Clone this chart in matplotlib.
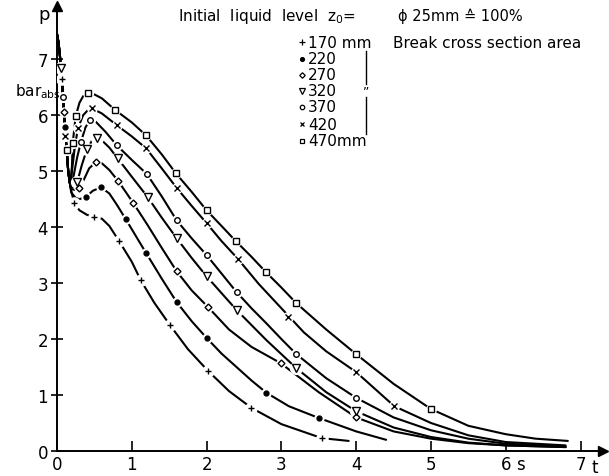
import matplotlib
matplotlib.use("Agg")
import matplotlib.pyplot as plt

# pressure p (bar abs) over time t (s) for several initial liquid levels z0
levels = ["170 mm", "220", "270", "320", "370", "420", "470mm"]
markers = ["+", "o", "D", "v", "o", "x", "s"]
filled = [True, True, False, False, False, True, False]
msizes = [5, 3.5, 3.5, 5.5, 4, 4, 4]

# common blow-down branch right after the break
t_drop = [0.0, 0.02, 0.04, 0.05, 0.07, 0.09, 0.11, 0.13, 0.15, 0.17]
p_drop = [7.45, 7.3, 7.05, 6.84, 6.55, 6.1, 5.7, 5.37, 5.0, 4.8]

t_170 = [0.19, 0.23, 0.3, 0.4, 0.49, 0.6, 0.7, 0.83, 1.0, 1.12, 1.3, 1.51,
         1.75, 2.02, 2.3, 2.6, 3.0, 3.54, 3.9]
p_170 = [4.65, 4.43, 4.3, 4.22, 4.18, 4.15, 4.02, 3.75, 3.38, 3.05, 2.65, 2.25,
         1.82, 1.43, 1.07, 0.77, 0.48, 0.23, 0.18]
t_220 = [0.19, 0.25, 0.3, 0.39, 0.48, 0.59, 0.7, 0.8, 0.92, 1.05, 1.19, 1.4,
         1.6, 1.8, 2.0, 2.2, 2.4, 2.6, 2.8, 3.1, 3.5, 4.0, 4.4]
p_220 = [4.62, 4.52, 4.5, 4.54, 4.65, 4.71, 4.6, 4.4, 4.14, 3.85, 3.54, 3.08,
         2.66, 2.32, 2.02, 1.74, 1.5, 1.26, 1.04, 0.8, 0.59, 0.35, 0.2]
t_270 = [0.19, 0.25, 0.3, 0.36, 0.43, 0.52, 0.6, 0.7, 0.82, 1.02, 1.2, 1.4,
         1.6, 1.8, 2.02, 2.3, 2.6, 2.99, 3.5, 4.0, 4.5, 5.0, 5.5, 6.0, 6.8]
p_270 = [4.68, 4.66, 4.69, 4.85, 5.05, 5.16, 5.14, 5.02, 4.82, 4.43, 4.06, 3.63,
         3.21, 2.87, 2.57, 2.17, 1.86, 1.57, 1.05, 0.6, 0.35, 0.22, 0.14, 0.1, 0.07]
t_320 = [0.19, 0.23, 0.27, 0.33, 0.4, 0.47, 0.53, 0.6, 0.7, 0.81, 1.0, 1.21,
         1.4, 1.6, 1.8, 2.0, 2.2, 2.4, 2.8, 3.2, 3.6, 4.0, 4.5, 5.0, 5.5, 6.0, 6.8]
p_320 = [4.7, 4.72, 4.8, 5.1, 5.39, 5.55, 5.59, 5.55, 5.42, 5.23, 4.9, 4.54,
         4.17, 3.8, 3.45, 3.12, 2.82, 2.52, 1.98, 1.48, 1.05, 0.71, 0.42, 0.25,
         0.15, 0.1, 0.07]
t_370 = [0.18, 0.22, 0.27, 0.32, 0.38, 0.44, 0.52, 0.65, 0.8, 1.0, 1.2, 1.4,
         1.6, 1.8, 2.0, 2.2, 2.4, 2.6, 2.8, 3.0, 3.2, 3.6, 4.0, 4.5, 5.0, 5.5,
         6.0, 6.8]
p_370 = [4.72, 4.9, 5.25, 5.52, 5.78, 5.91, 5.88, 5.7, 5.46, 5.2, 4.95, 4.55,
         4.12, 3.8, 3.5, 3.17, 2.84, 2.55, 2.28, 2.0, 1.73, 1.3, 0.95, 0.6,
         0.37, 0.22, 0.13, 0.08]
t_420 = [0.18, 0.2, 0.24, 0.28, 0.35, 0.42, 0.47, 0.6, 0.8, 1.0, 1.19, 1.4,
         1.6, 1.8, 2.0, 2.2, 2.42, 2.7, 3.0, 3.3, 3.6, 4.0, 4.51, 5.0, 5.5,
         6.0, 6.8]
p_420 = [4.74, 5.0, 5.45, 5.77, 6.0, 6.1, 6.12, 6.03, 5.82, 5.62, 5.41, 5.05,
         4.7, 4.38, 4.07, 3.75, 3.43, 2.98, 2.55, 2.12, 1.78, 1.41, 0.8, 0.5,
         0.28, 0.16, 0.1]
t_470 = [0.18, 0.2, 0.21, 0.25, 0.3, 0.35, 0.41, 0.5, 0.6, 0.78, 1.0, 1.19,
         1.4, 1.59, 1.8, 2.0, 2.2, 2.39, 2.6, 2.79, 3.0, 3.2, 3.6, 4.0, 4.5,
         5.0, 5.5, 6.0, 6.4, 6.83]
p_470 = [4.78, 5.1, 5.5, 5.98, 6.22, 6.34, 6.39, 6.37, 6.3, 6.09, 5.87, 5.64,
         5.3, 4.96, 4.63, 4.3, 4.02, 3.75, 3.47, 3.2, 2.92, 2.64, 2.17, 1.73,
         1.2, 0.75, 0.45, 0.3, 0.22, 0.18]

# measured points (symbols)
tm_170 = [0.07, 0.23, 0.49, 0.83, 1.12, 1.51, 2.02, 2.6, 3.54]
pm_170 = [6.64, 4.43, 4.18, 3.75, 3.05, 2.25, 1.43, 0.77, 0.23]
tm_220 = [0.11, 0.39, 0.59, 0.92, 1.19, 1.6, 2.0, 2.8, 3.5]
pm_220 = [5.79, 4.54, 4.71, 4.14, 3.54, 2.66, 2.02, 1.04, 0.59]
tm_270 = [0.09, 0.3, 0.52, 0.82, 1.02, 1.6, 2.02, 2.99, 4.0]
pm_270 = [6.05, 4.69, 5.16, 4.82, 4.43, 3.21, 2.57, 1.57, 0.6]
tm_320 = [0.05, 0.27, 0.4, 0.53, 0.81, 1.21, 1.6, 2.0, 2.4, 3.2, 4.0]
pm_320 = [6.84, 4.8, 5.39, 5.59, 5.23, 4.54, 3.8, 3.12, 2.52, 1.48, 0.71]
tm_370 = [0.08, 0.32, 0.44, 0.8, 1.2, 1.6, 2.0, 2.4, 3.2, 4.0]
pm_370 = [6.32, 5.52, 5.91, 5.46, 4.95, 4.12, 3.5, 2.84, 1.73, 0.95]
tm_420 = [0.11, 0.28, 0.47, 0.8, 1.19, 1.6, 2.0, 2.42, 3.09, 4.0, 4.51]
pm_420 = [5.62, 5.77, 6.12, 5.82, 5.41, 4.7, 4.07, 3.43, 2.4, 1.41, 0.8]
tm_470 = [0.13, 0.21, 0.25, 0.41, 0.78, 1.19, 1.59, 2.0, 2.39, 2.79, 3.2, 4.0, 5.0]
pm_470 = [5.37, 5.5, 5.98, 6.39, 6.09, 5.64, 4.96, 4.3, 3.75, 3.2, 2.64, 1.73, 0.75]

lines_t = [t_170, t_220, t_270, t_320, t_370, t_420, t_470]
lines_p = [p_170, p_220, p_270, p_320, p_370, p_420, p_470]
marks_t = [tm_170, tm_220, tm_270, tm_320, tm_370, tm_420, tm_470]
marks_p = [pm_170, pm_220, pm_270, pm_320, pm_370, pm_420, pm_470]

W, H = 609, 477
fig = plt.figure(figsize=(W / 100, H / 100), dpi=100)
ax = fig.add_axes([57 / W, 25 / H, 546 / W, 445 / H])
ax.set_xlim(0, 7.3)
ax.set_ylim(0, 7.95)


def px(x, y):
    # pixel position in the picture -> figure fraction
    return x / W, 1 - y / H


# curves first, symbols on top so they cut little gaps into the lines
for tt, pp in zip(lines_t, lines_p):
    ax.plot(t_drop + tt, p_drop + pp, color="black", lw=1.5,
            solid_capstyle="round", solid_joinstyle="round", zorder=2)

for i in range(len(levels)):
    ax.plot(marks_t[i], marks_p[i], ls="none", marker="o", ms=msizes[i] + 3,
            mfc="white", mec="white", zorder=3)
    ax.plot(marks_t[i], marks_p[i], ls="none", marker=markers[i], ms=msizes[i],
            mfc="black" if filled[i] else "white", mec="black", mew=1.0,
            zorder=4)

# axes with arrows, like the drawing
for s in ["top", "right"]:
    ax.spines[s].set_visible(False)
ax.spines["left"].set_linewidth(1.4)
ax.spines["bottom"].set_linewidth(1.4)
ax.plot(1, 0, ">", color="black", ms=7, transform=ax.transAxes, clip_on=False)
ax.plot(0, 1, "^", color="black", ms=7, transform=ax.transAxes, clip_on=False)

ax.set_xticks(range(8))
ax.set_yticks(range(8))
ax.tick_params(axis="x", direction="in", length=7, width=1.2, labelsize=12, pad=3)
ax.tick_params(axis="y", direction="inout", length=9, width=1.2, labelsize=12, pad=2)

ax.text(6.14, -0.0094, "s", transform=ax.get_xaxis_transform(), fontsize=12,
        ha="left", va="top")
fig.text(*px(592, 468), "t", fontsize=12, ha="left", va="center")
fig.text(*px(44, 15), "p", fontsize=13, ha="center", va="center")
fig.text(*px(15, 92), r"bar$_{\rm abs}$", fontsize=11, ha="left", va="center")

# legend written on the drawing
fs = 11
fig.text(*px(178, 16), r"Initial  liquid  level  z$_0$=", fontsize=fs,
         ha="left", va="center")
fig.text(*px(398, 16), "ϕ 25mm ≙ 100%", fontsize=10.5, ha="left", va="center")
fig.text(*px(393, 43), "Break cross section area", fontsize=fs,
         ha="left", va="center")
rows_y = [43, 60, 76, 92, 108, 125, 142]
for i, lab in enumerate(levels):
    fx, fy = px(302, rows_y[i])
    fig.lines.append(plt.Line2D([fx], [fy], transform=fig.transFigure,
                                marker=markers[i], ms=msizes[i] * 0.8, ls="none",
                                mfc="black" if filled[i] else "white",
                                mec="black", mew=0.9))
    fig.text(*px(308, rows_y[i]), lab, fontsize=fs, ha="left", va="center")

x0, _ = px(366, 0)
fig.lines.append(plt.Line2D([x0, x0], [px(0, 52)[1], px(0, 85)[1]],
                            transform=fig.transFigure, color="black", lw=1.0))
fig.lines.append(plt.Line2D([x0, x0], [px(0, 98)[1], px(0, 135)[1]],
                            transform=fig.transFigure, color="black", lw=1.0))
fig.text(*px(366, 92), "\u201d", fontsize=9, ha="center", va="center")

fig.savefig("out.png", dpi=100)
